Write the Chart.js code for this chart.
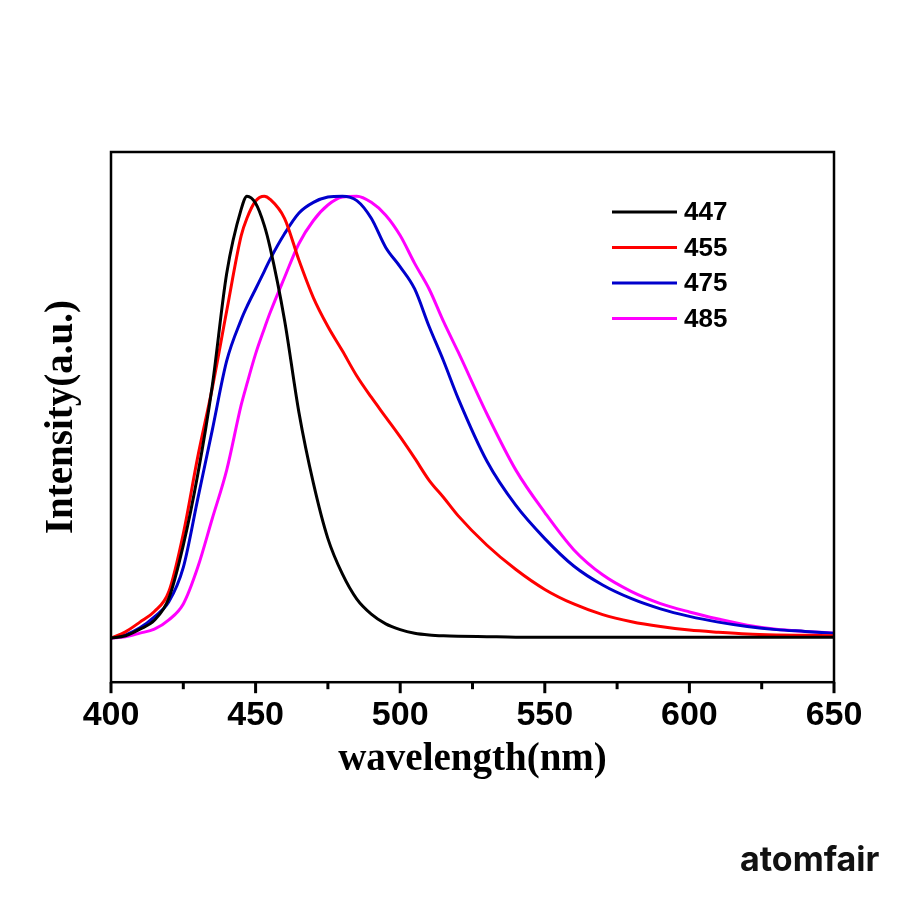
<!DOCTYPE html>
<html>
<head>
<meta charset="utf-8">
<script src="https://cdn.jsdelivr.net/npm/chart.js@4.4.0/dist/chart.umd.min.js"></script>
<style>
  html, body { margin: 0; padding: 0; background: #fff; }
  #wrap { position: relative; width: 900px; height: 900px; }
  #brand { position: absolute; left: 740px; top: 838px; font-family: Inter, "Open Sans", sans-serif; font-weight: 700; font-size: 34px; color: #111; }
</style>
</head>
<body>
<div id="wrap">
  <canvas id="chart" width="900" height="900"></canvas>
  <div id="brand">atomfair</div>
</div>
<script>
// wavelength grid (nm)
const wavelengths = [400, 405, 410, 415, 420, 425, 430, 435, 440, 445, 447, 450, 453, 455, 460, 465, 470, 475, 480, 485, 490, 495, 500, 505, 510, 515, 520, 530, 540, 550, 560, 570, 580, 590, 600, 610, 620, 630, 640, 650];

// normalized intensity
const s447 = [0, 0.005, 0.02, 0.04, 0.09, 0.21, 0.37, 0.57, 0.825, 0.97, 1.0, 0.984, 0.934, 0.884, 0.72, 0.51, 0.35, 0.225, 0.145, 0.088, 0.054, 0.032, 0.019, 0.011, 0.007, 0.005, 0.004, 0.003, 0.002, 0.002, 0.002, 0.002, 0.002, 0.002, 0.002, 0.002, 0.002, 0.002, 0.002, 0.002];
const s455 = [0, 0.014, 0.036, 0.06, 0.105, 0.236, 0.41, 0.565, 0.74, 0.91, 0.95, 0.989, 1.0, 0.993, 0.95, 0.855, 0.77, 0.705, 0.65, 0.593, 0.545, 0.50, 0.455, 0.407, 0.357, 0.318, 0.277, 0.21, 0.155, 0.11, 0.077, 0.053, 0.037, 0.026, 0.018, 0.013, 0.009, 0.007, 0.006, 0.005];
const s475 = [0, 0.007, 0.023, 0.048, 0.082, 0.16, 0.315, 0.47, 0.627, 0.72, 0.75, 0.79, 0.83, 0.857, 0.915, 0.962, 0.986, 0.998, 1.0, 0.99, 0.95, 0.884, 0.84, 0.79, 0.705, 0.627, 0.543, 0.40, 0.30, 0.225, 0.163, 0.12, 0.089, 0.066, 0.049, 0.036, 0.026, 0.019, 0.015, 0.011];
const s485 = [0, 0.003, 0.011, 0.02, 0.041, 0.077, 0.16, 0.27, 0.38, 0.527, 0.575, 0.643, 0.70, 0.736, 0.816, 0.893, 0.945, 0.98, 0.998, 1.0, 0.986, 0.957, 0.911, 0.848, 0.79, 0.716, 0.648, 0.507, 0.38, 0.284, 0.2, 0.143, 0.105, 0.078, 0.059, 0.043, 0.029, 0.02, 0.015, 0.011];

const seriesLabels = ['447', '455', '475', '485'];
const seriesColors = ['#000000', '#ff0000', '#0000cc', '#ff00ff'];
const seriesData = [s447, s455, s475, s485];

const xTicks = [400, 450, 500, 550, 600, 650];
const xMinorTicks = [425, 475, 525, 575, 625];

function toPoints(ys) {
  return wavelengths.map((x, i) => ({ x: x, y: ys[i] }));
}

// frame, tick marks, axis titles and legend
const framePlugin = {
  id: 'frame',
  afterDraw(chart) {
    const ctx = chart.ctx;
    const a = chart.chartArea;
    const xs = chart.scales.x;
    ctx.save();
    ctx.strokeStyle = '#000';
    ctx.lineWidth = 2.5;
    ctx.strokeRect(a.left, a.top, a.right - a.left, a.bottom - a.top);

    ctx.lineWidth = 3;
    xTicks.forEach(v => {
      const px = xs.getPixelForValue(v);
      ctx.beginPath();
      ctx.moveTo(px, a.bottom);
      ctx.lineTo(px, a.bottom + 11);
      ctx.stroke();
    });
    xMinorTicks.forEach(v => {
      const px = xs.getPixelForValue(v);
      ctx.beginPath();
      ctx.moveTo(px, a.bottom);
      ctx.lineTo(px, a.bottom + 7);
      ctx.stroke();
    });

    ctx.fillStyle = '#000';
    ctx.font = 'bold 39px "Liberation Serif", "Times New Roman", serif';
    ctx.textAlign = 'center';
    ctx.textBaseline = 'middle';
    ctx.fillText('wavelength(nm)', (a.left + a.right) / 2, a.bottom + 78);

    // y axis title
    ctx.translate(62, (a.top + a.bottom) / 2);
    ctx.rotate(-Math.PI / 2);
    ctx.font = 'bold 39px "Liberation Serif", "Times New Roman", serif';
    ctx.fillText('Intensity(a.u.)', 0, 0);
    ctx.restore();

    // legend
    ctx.save();
    ctx.font = 'bold 26px "Liberation Sans", Arial, sans-serif';
    ctx.textBaseline = 'middle';
    ctx.fillStyle = '#000';
    chart.data.datasets.forEach((ds, i) => {
      const y = 212 + i * 35.5;
      ctx.strokeStyle = ds.borderColor;
      ctx.lineWidth = 3;
      ctx.beginPath();
      ctx.moveTo(612, y);
      ctx.lineTo(677, y);
      ctx.stroke();
      ctx.fillText(ds.label, 684, y + 1);
    });
    ctx.restore();
  }
};

new Chart(document.getElementById('chart'), {
  type: 'line',
  data: {
    datasets: seriesLabels.map((lab, i) => ({
      label: lab,
      data: toPoints(seriesData[i]),
      borderColor: seriesColors[i],
      borderWidth: 3,
      pointRadius: 0,
      fill: false,
      cubicInterpolationMode: 'monotone'
    }))
  },
  options: {
    responsive: false,
    animation: false,
    layout: { padding: { left: 111, right: 66, top: 152, bottom: 151 } },
    plugins: { legend: { display: false }, tooltip: { enabled: false } },
    scales: {
      x: {
        type: 'linear',
        min: 400,
        max: 650,
        grid: { display: false, drawTicks: false },
        border: { display: false },
        ticks: {
          stepSize: 50,
          padding: 13,
          color: '#000',
          font: { family: '"Liberation Sans", Arial, sans-serif', size: 34, weight: 'bold' }
        }
      },
      y: {
        display: false,
        min: -0.1,
        max: 1.1
      }
    }
  },
  plugins: [framePlugin]
});
</script>
</body>
</html>
